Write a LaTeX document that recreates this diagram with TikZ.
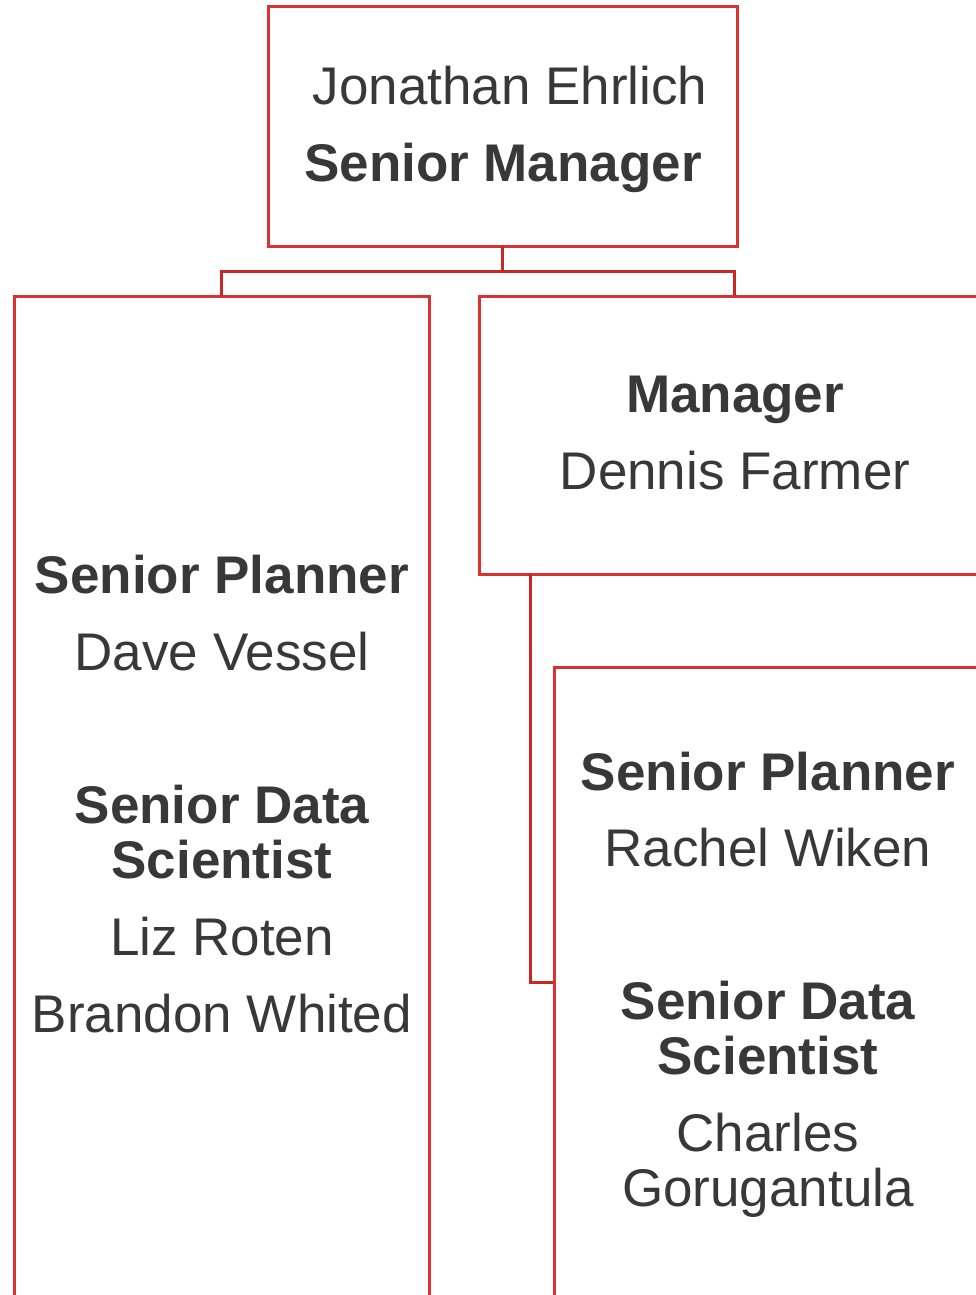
\documentclass[tikz,border=0pt]{standalone}
\usepackage{fontspec}
\setmainfont{Liberation Sans}
\definecolor{boxred}{HTML}{DA3232}
\definecolor{linkred}{HTML}{C62828}
\definecolor{ink}{HTML}{383838}
\tikzset{
    orgbox/.style={draw=boxred,line width=3pt,inner sep=0pt,outer sep=0pt,anchor=north west},
    link/.style={draw=linkred,line width=3pt},
    lbl/.style={anchor=base,inner sep=0pt,text=ink,font=\fontsize{53}{60}\selectfont},
    role/.style={lbl,font=\fontsize{53}{60}\selectfont\bfseries}
}
\begin{document}
\begin{tikzpicture}[x=1pt,y=-1pt]
    \useasboundingbox (0,0) rectangle (976,1295);
    \clip (0,0) rectangle (976,1295);

    % boxes
    \node[orgbox,minimum width=469pt,minimum height=239pt] (topbox) at (268,7) {};
    \node[orgbox,minimum width=415pt,minimum height=1010pt] (leftbox) at (14,296) {};
    \node[orgbox,minimum width=510pt,minimum height=278pt] (mgrbox) at (479,296) {};
    \node[orgbox,minimum width=428pt,minimum height=639pt] (srbox) at (554,667) {};

    % connectors
    \draw[link] (topbox.south) -- ++(0,25) coordinate (split);
    \draw[link] (leftbox.north) |- (split) -| (mgrbox.north);
    \draw[link] ([xshift=51pt]mgrbox.south west) |- ([yshift=-315pt]srbox.north west);

    % texts
    \node[lbl] (jehrlich) at (510,105) {Jonathan Ehrlich};
    \node[role] (srmgr) at (503,181) {Senior Manager};

    \node[role] (mgr) at (735,412) {Manager};
    \node[lbl] (dfarmer) at (735,489) {Dennis Farmer};

    \node[role] (lplanner) at (222,593) {Senior Planner};
    \node[lbl] (dvessel) at (222,670) {Dave Vessel};
    \node[role] (ldata) at (222,823) {Senior Data};
    \node[role] (lsci) at (222,878) {Scientist};
    \node[lbl] (lroten) at (222,955) {Liz Roten};
    \node[lbl] (bwhited) at (222,1032) {Brandon Whited};

    \node[role] (rplanner) at (768,790) {Senior Planner};
    \node[lbl] (rwiken) at (768,866) {Rachel Wiken};
    \node[role] (rdata) at (768,1019) {Senior Data};
    \node[role] (rsci) at (768,1074) {Scientist};
    \node[lbl] (charles) at (768,1151) {Charles};
    \node[lbl] (goru) at (768,1206) {Gorugantula};
\end{tikzpicture}
\end{document}
